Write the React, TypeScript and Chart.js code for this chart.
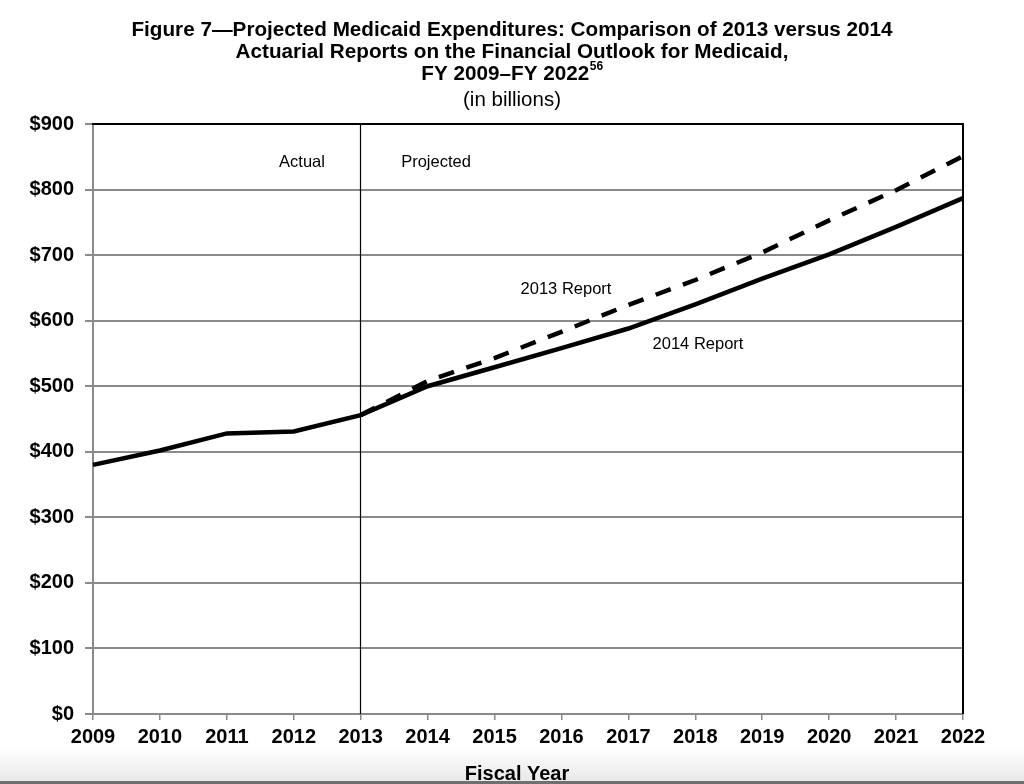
import React, { useEffect, useRef } from "react";
import { Chart, registerables } from "chart.js";

Chart.register(...registerables);

const years = ["2009", "2010", "2011", "2012", "2013", "2014", "2015", "2016", "2017", "2018", "2019", "2020", "2021", "2022"];
const report2014 = [380, 402, 428, 431, 456, 500, 529, 558, 588, 625, 664, 701, 743, 787];
const report2013 = [null, null, null, null, 456, 508, 543, 583, 624, 662, 704, 753, 799, 851];
const yMin = 0;
const yMax = 900;
const yStep = 100;
const dividerYear = "2013";

const titleLines = [
  "Figure 7\u2014Projected Medicaid Expenditures: Comparison of 2013 versus 2014",
  "Actuarial Reports on the Financial Outlook for Medicaid,",
  "FY 2009\u2013FY 2022",
];
const titleSup = "56";
const subtitle = "(in billions)";
const xAxisTitle = "Fiscal Year";
const labelActual = "Actual";
const labelProjected = "Projected";
const label2013 = "2013 Report";
const label2014 = "2014 Report";

const FONT = "'Liberation Sans', Arial, Helvetica, sans-serif";
const GRID = "#8a8a8a";

const decorPlugin = {
  id: "decor",
  beforeDraw(chart: any) {
    const ctx = chart.ctx;
    const W = chart.width;
    const H = chart.height;
    ctx.save();
    ctx.fillStyle = "#ffffff";
    ctx.fillRect(0, 0, W, H);
    const g = ctx.createLinearGradient(0, 746, 0, 781);
    g.addColorStop(0, "#ffffff");
    g.addColorStop(1, "#e9e9e9");
    ctx.fillStyle = g;
    ctx.fillRect(0, 746, W, 35);
    ctx.restore();
  },
  afterDraw(chart: any) {
    const ctx = chart.ctx;
    const area = chart.chartArea;
    const xs = chart.scales.x;
    const cx = 512;
    ctx.save();

    // frame: top & right borders black
    ctx.strokeStyle = "#000000";
    ctx.lineWidth = 2;
    ctx.beginPath();
    ctx.moveTo(area.left - 1, area.top);
    ctx.lineTo(area.right, area.top);
    ctx.lineTo(area.right, area.bottom);
    ctx.stroke();

    // divider actual/projected
    const dx = Math.round(xs.getPixelForValue(years.indexOf(dividerYear))) - 0.5;
    ctx.lineWidth = 1.2;
    ctx.beginPath();
    ctx.moveTo(dx, area.top);
    ctx.lineTo(dx, area.bottom);
    ctx.stroke();

    // title
    ctx.fillStyle = "#000000";
    ctx.textBaseline = "middle";
    ctx.textAlign = "center";
    ctx.font = `bold 20.7px ${FONT}`;
    ctx.fillText(titleLines[0], cx, 30);
    ctx.fillText(titleLines[1], cx, 52);
    const w3 = ctx.measureText(titleLines[2]).width;
    ctx.font = `bold 12px ${FONT}`;
    const ws = ctx.measureText(titleSup).width;
    const start = cx - (w3 + ws) / 2;
    ctx.textAlign = "left";
    ctx.font = `bold 20.7px ${FONT}`;
    ctx.fillText(titleLines[2], start, 74);
    ctx.font = `bold 12px ${FONT}`;
    ctx.fillText(titleSup, start + w3 + 0.5, 67);
    ctx.textAlign = "center";
    ctx.font = `20.5px ${FONT}`;
    ctx.fillText(subtitle, cx, 100);

    // annotations
    ctx.font = `16.5px ${FONT}`;
    ctx.fillText(labelActual, 302, 162);
    ctx.fillText(labelProjected, 436, 162);
    ctx.fillText(label2013, 566, 289);
    ctx.fillText(label2014, 698, 344);

    // axis title
    ctx.font = `bold 20px ${FONT}`;
    ctx.fillText(xAxisTitle, 517, 774);

    // bottom page edge
    ctx.fillStyle = "#6f6f6f";
    ctx.fillRect(0, 781, chart.width, 3);
    ctx.restore();
  },
};

export default function App() {
  const ref = useRef<HTMLCanvasElement | null>(null);
  useEffect(() => {
    document.body.style.margin = "0";
    const canvas = ref.current;
    if (!canvas) return;
    const chart = new Chart(canvas, {
      type: "line",
      data: {
        labels: years,
        datasets: [
          {
            label: label2013,
            data: report2013,
            borderColor: "#000000",
            borderWidth: 4.5,
            borderDash: [16, 13],
            pointRadius: 0,
            fill: false,
            tension: 0,
            spanGaps: false,
          },
          {
            label: label2014,
            data: report2014,
            borderColor: "#000000",
            borderWidth: 4.5,
            pointRadius: 0,
            fill: false,
            tension: 0,
          },
        ],
      },
      options: {
        responsive: false,
        animation: false,
        devicePixelRatio: 1,
        layout: { padding: { top: 124, right: 61, bottom: 0, left: 0 } },
        plugins: {
          legend: { display: false },
          title: { display: false },
          tooltip: { enabled: false },
        },
        scales: {
          x: {
            type: "category",
            offset: false,
            afterFit(scale: any) {
              scale.height = 70;
            },
            grid: {
              drawOnChartArea: false,
              drawTicks: true,
              tickLength: 6,
              color: GRID,
              lineWidth: 1.5,
            },
            border: { display: true, color: GRID, width: 2 },
            ticks: {
              color: "#000000",
              font: { family: FONT, size: 20, weight: "bold" },
              padding: 5,
              maxRotation: 0,
              autoSkip: false,
            },
          },
          y: {
            min: yMin,
            max: yMax,
            afterFit(scale: any) {
              scale.width = 93;
            },
            grid: {
              color: GRID,
              lineWidth: 2,
              tickLength: 8,
              drawTicks: true,
            },
            border: { display: true, color: GRID, width: 2 },
            ticks: {
              stepSize: yStep,
              color: "#000000",
              font: { family: FONT, size: 20, weight: "bold" },
              padding: 11,
              callback: (v: any) => "$" + v,
            },
          },
        },
      },
      plugins: [decorPlugin],
    });
    return () => chart.destroy();
  }, []);
  return (
    <div style={{ position: "absolute", left: 0, top: 0, width: 1024, height: 784 }}>
      <canvas ref={ref} width={1024} height={784} style={{ display: "block", width: 1024, height: 784 }} />
    </div>
  );
}
